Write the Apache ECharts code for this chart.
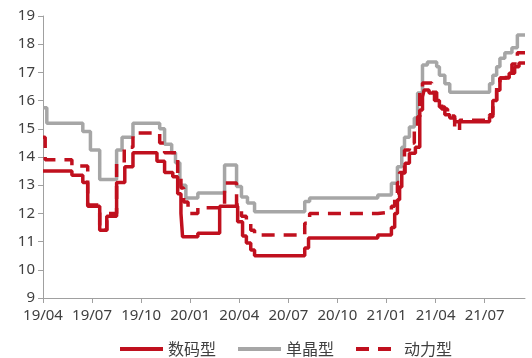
<!DOCTYPE html>
<html>
<head>
<meta charset="utf-8">
<script src="https://cdn.jsdelivr.net/npm/echarts@6/dist/echarts.min.js"></script>
<style>
  html, body { margin: 0; padding: 0; background: #fff; }
  #chart { width: 532px; height: 358px; }
</style>
</head>
<body>
<div id="chart"></div>
<script>
// Price change points (value holds from its date until the next one)
const digitalDates = ['2019-04-01','2019-05-24','2019-06-14','2019-06-23','2019-07-15','2019-07-28','2019-08-16','2019-09-01','2019-09-16','2019-10-30','2019-11-14','2019-11-29','2019-12-08','2019-12-14','2019-12-17','2020-01-15','2020-02-25','2020-03-28','2020-04-07','2020-04-14','2020-04-22','2020-04-29','2020-08-01','2020-08-08','2020-12-15','2021-01-10','2021-01-16','2021-01-21','2021-01-25','2021-01-29','2021-02-05','2021-02-13','2021-02-24','2021-03-02','2021-03-07','2021-03-10','2021-03-19','2021-03-29','2021-04-08','2021-04-18','2021-04-27','2021-05-06','2021-07-10','2021-07-16','2021-07-23','2021-07-29','2021-08-16','2021-08-26','2021-09-04'];
const digitalValues = [13.5,13.35,13.1,12.25,11.4,11.9,13.1,13.65,14.15,13.85,13.45,13.3,12.7,12.0,11.17,11.3,12.25,11.7,11.2,10.95,10.7,10.5,10.77,11.13,11.23,11.5,12.0,12.48,12.94,13.43,13.78,14.13,14.35,15.67,16.13,16.38,16.27,16.0,15.77,15.5,15.38,15.25,15.43,16.0,16.37,16.8,16.97,17.2,17.33];

const monoDates = ['2019-04-01','2019-04-08','2019-06-14','2019-06-28','2019-07-15','2019-08-16','2019-08-26','2019-09-16','2019-11-05','2019-11-14','2019-11-27','2019-12-04','2019-12-12','2019-12-23','2020-01-15','2020-03-04','2020-03-26','2020-04-05','2020-04-16','2020-04-29','2020-08-01','2020-08-10','2020-12-15','2021-01-10','2021-01-21','2021-01-29','2021-02-04','2021-02-13','2021-02-22','2021-02-28','2021-03-07','2021-03-16','2021-04-03','2021-04-08','2021-04-18','2021-04-27','2021-07-10','2021-07-16','2021-07-23','2021-07-29','2021-08-08','2021-08-21','2021-09-01'];
const monoValues = [15.75,15.2,14.9,14.25,13.2,14.25,14.7,15.2,15.0,14.45,14.15,13.8,13.0,12.55,12.72,13.72,12.95,12.58,12.37,12.06,12.42,12.55,12.65,13.07,13.65,14.35,14.7,15.06,15.38,16.27,17.26,17.37,17.2,16.9,16.6,16.3,16.6,16.9,17.2,17.5,17.7,17.87,18.33];

const powerDates = ['2019-04-01','2019-04-05','2019-05-24','2019-06-23','2019-07-15','2019-07-28','2019-08-16','2019-08-30','2019-09-16','2019-11-05','2019-11-14','2019-12-08','2019-12-14','2019-12-19','2019-12-27','2020-01-15','2020-03-04','2020-03-26','2020-04-05','2020-04-14','2020-04-22','2020-04-29','2020-08-01','2020-08-10','2020-12-15','2021-01-10','2021-01-16','2021-01-21','2021-01-25','2021-02-04','2021-02-13','2021-02-22','2021-02-28','2021-03-02','2021-03-07','2021-03-24','2021-04-03','2021-04-12','2021-04-23','2021-05-06','2021-05-15','2021-07-10','2021-07-16','2021-07-23','2021-07-29','2021-08-11','2021-08-21','2021-09-01'];
const powerValues = [14.7,13.9,13.68,12.3,11.4,12.0,13.8,14.35,14.85,14.5,14.15,13.4,12.9,12.4,12.0,12.2,13.08,12.3,11.9,11.65,11.4,11.23,11.65,12.0,12.05,12.25,12.72,13.1,13.45,14.25,14.5,14.96,15.43,16.3,16.62,16.3,16.0,15.7,15.45,14.95,15.3,15.5,16.0,16.5,16.8,16.95,17.3,17.7];

const seriesNames = ['数码型', '单晶型', '动力型'];
const xTickLabels = ['19/04','19/07','19/10','20/01','20/04','20/07','20/10','21/01','21/04','21/07'];
const startDate = '2019-04-01';
const endDate = '2021-09-15';

// Months elapsed since the start of the axis
function monthIndex(s) {
  const [y, m, d] = s.split('-').map(Number);
  const [y0, m0] = startDate.split('-').map(Number);
  return (y - y0) * 12 + (m - m0) + (d - 1) / 30;
}

function toPoints(dates, values) {
  const pts = dates.map((d, i) => [monthIndex(d), values[i]]);
  pts.push([monthIndex(endDate), values[values.length - 1]]);
  return pts;
}

const red = '#C0101E';
const gray = '#A6A6A6';
const textColor = '#404040';

const chart = echarts.init(document.getElementById('chart'), null, { renderer: 'canvas' });
chart.setOption({
  animation: false,
  backgroundColor: '#fff',
  grid: { left: 43, right: 7, top: 16, bottom: 60, containLabel: false },
  legend: {
    left: 118,
    top: 341,
    padding: 0,
    itemWidth: 43,
    itemHeight: 16,
    itemGap: 20,
    itemStyle: { opacity: 0 },
    lineStyle: { width: 4 },
    textStyle: { fontFamily: 'Noto Sans CJK SC', fontSize: 16, color: textColor },
    data: seriesNames
  },
  xAxis: {
    type: 'value',
    min: 0,
    max: monthIndex(endDate),
    interval: 3,
    axisLine: { lineStyle: { color: '#A0A0A0', width: 1 } },
    axisTick: { show: true, length: 5, lineStyle: { color: '#A0A0A0' } },
    splitLine: { show: false },
    axisLabel: {
      showMaxLabel: false,
      margin: 10,
      fontFamily: 'Noto Sans',
      fontSize: 15,
      color: textColor,
      formatter: v => xTickLabels[Math.round(v / 3)] || ''
    }
  },
  yAxis: {
    type: 'value',
    min: 9,
    max: 19,
    interval: 1,
    axisLine: { show: true, lineStyle: { color: '#A0A0A0', width: 1 } },
    axisTick: { show: true, length: 5, lineStyle: { color: '#A0A0A0' } },
    splitLine: { show: false },
    axisLabel: { margin: 8, fontFamily: 'Noto Sans', fontSize: 15, color: textColor }
  },
  series: [
    {
      name: seriesNames[1], type: 'line', step: 'end', symbol: 'none',
      lineStyle: { color: gray, width: 3.5 }, itemStyle: { color: gray },
      data: toPoints(monoDates, monoValues), z: 2
    },
    {
      name: seriesNames[0], type: 'line', step: 'end', symbol: 'none',
      lineStyle: { color: red, width: 3.5 }, itemStyle: { color: red },
      data: toPoints(digitalDates, digitalValues), z: 3
    },
    {
      name: seriesNames[2], type: 'line', step: 'end', symbol: 'none',
      lineStyle: { color: red, width: 3.5, type: [13, 9] }, itemStyle: { color: red },
      data: toPoints(powerDates, powerValues), z: 4
    }
  ]
});
</script>
</body>
</html>
